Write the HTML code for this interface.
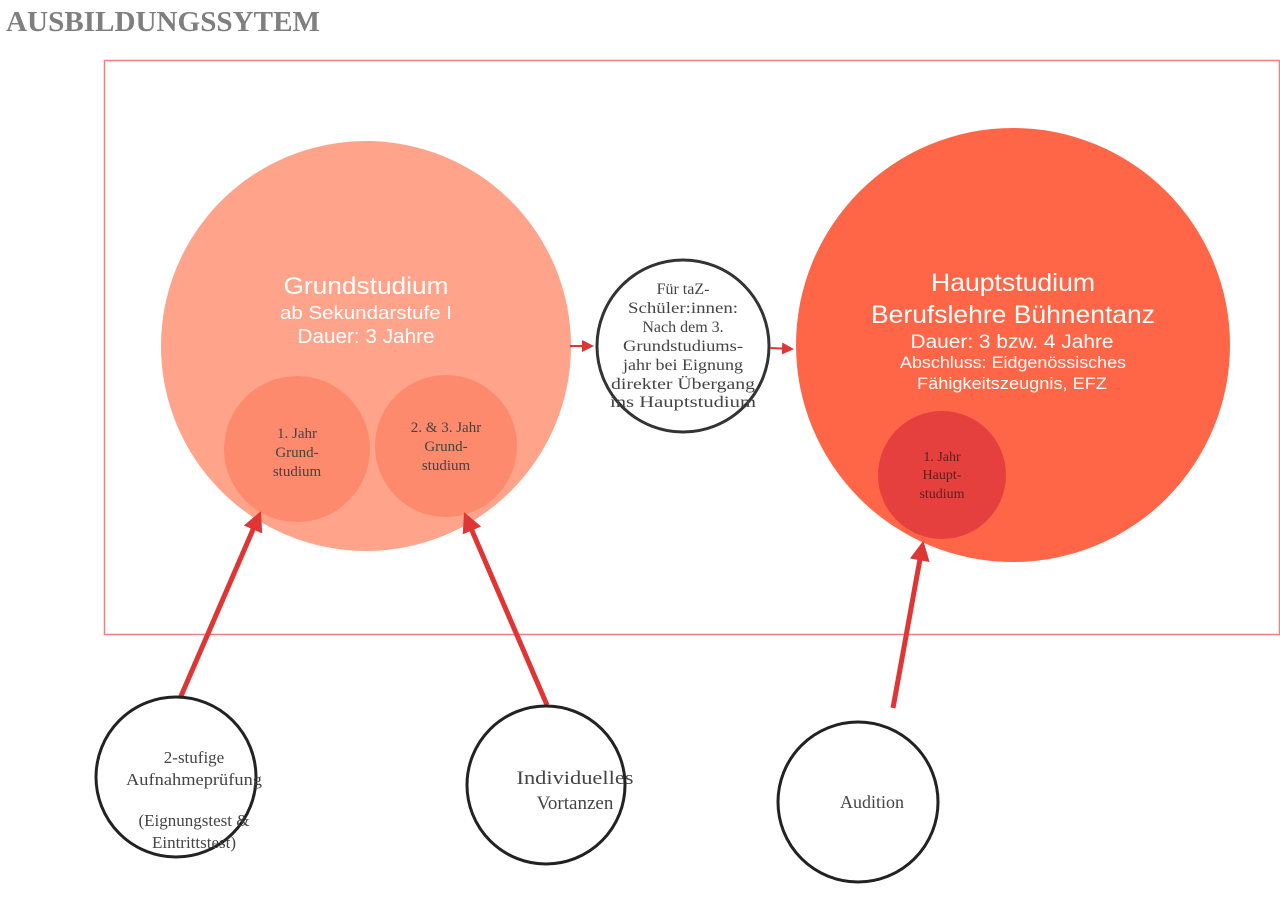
<!DOCTYPE html>
<html><head><meta charset="utf-8"><style>
html,body{margin:0;padding:0;background:#fff;}
svg{display:block}
.s{font-family:"Liberation Serif",serif;fill:#444;}
.w{font-family:"Liberation Sans",sans-serif;fill:#fff;}
</style></head><body>
<svg width="1280" height="918" viewBox="0 0 1280 918" xmlns="http://www.w3.org/2000/svg">
<defs>
<marker id="ah" markerWidth="4" markerHeight="4" refX="2.5" refY="2" orient="auto" markerUnits="strokeWidth"><path d="M0,0 L4,2 L0,4 z" fill="#e03535"/></marker>
<marker id="as" markerWidth="6" markerHeight="6" refX="5" refY="3" orient="auto" markerUnits="strokeWidth"><path d="M0,0 L6,3 L0,6 z" fill="#e03535"/></marker>
</defs>
<text x="6" y="31" font-family="Liberation Serif,serif" font-weight="bold" font-size="29" fill="#7f7f7f" textLength="314" lengthAdjust="spacingAndGlyphs">AUSBILDUNGSSYTEM</text>
<rect x="104.5" y="60.5" width="1175" height="574" fill="none" stroke="#f08080" stroke-width="1.5"/>
<circle cx="366" cy="346" r="205" fill="#ffa38a"/>
<circle cx="297" cy="449" r="73" fill="#fe8a6e"/>
<circle cx="446" cy="446" r="71" fill="#fe8a6e"/>
<text class="w" text-anchor="middle" x="366" y="294" font-size="24" textLength="165" lengthAdjust="spacingAndGlyphs">Grundstudium</text>
<text class="w" text-anchor="middle" x="366" y="319" font-size="18" textLength="172" lengthAdjust="spacingAndGlyphs">ab Sekundarstufe I</text>
<text class="w" text-anchor="middle" x="366" y="343" font-size="20" textLength="137" lengthAdjust="spacingAndGlyphs">Dauer: 3 Jahre</text>
<g class="s" text-anchor="middle" font-size="15">
<text x="297" y="438">1. Jahr</text><text x="297" y="457">Grund-</text><text x="297" y="476">studium</text>
<text x="446" y="432">2. &amp; 3. Jahr</text><text x="446" y="451">Grund-</text><text x="446" y="470">studium</text>
</g>
<circle cx="683" cy="346" r="86" fill="#fff" stroke="#333" stroke-width="3"/>
<g class="s" text-anchor="middle" font-size="16" lengthAdjust="spacingAndGlyphs">
<text x="683" y="294">Für taZ-</text><text x="683" y="313" textLength="110" lengthAdjust="spacingAndGlyphs">Schüler:innen:</text><text x="683" y="332">Nach dem 3.</text><text x="683" y="351" textLength="120" lengthAdjust="spacingAndGlyphs">Grundstudiums-</text><text x="683" y="370" textLength="120" lengthAdjust="spacingAndGlyphs">jahr bei Eignung</text><text x="683" y="389" textLength="144" lengthAdjust="spacingAndGlyphs">direkter Übergang</text><text x="683" y="407" textLength="146" lengthAdjust="spacingAndGlyphs">ins Hauptstudium</text>
</g>
<circle cx="1013" cy="345" r="217" fill="#ff6547"/>
<circle cx="942" cy="475" r="64" fill="#e5403e"/>
<text class="w" text-anchor="middle" x="1013" y="291" font-size="25" textLength="164" lengthAdjust="spacingAndGlyphs">Hauptstudium</text>
<text class="w" text-anchor="middle" x="1013" y="323" font-size="25" textLength="284" lengthAdjust="spacingAndGlyphs">Berufslehre Bühnentanz</text>
<text class="w" text-anchor="middle" x="1012" y="348" font-size="19" textLength="203" lengthAdjust="spacingAndGlyphs">Dauer: 3 bzw. 4 Jahre</text>
<text class="w" text-anchor="middle" x="1013" y="368" font-size="17" textLength="226" lengthAdjust="spacingAndGlyphs">Abschluss: Eidgenössisches</text>
<text class="w" text-anchor="middle" x="1012" y="389" font-size="17" textLength="190" lengthAdjust="spacingAndGlyphs">Fähigkeitszeugnis, EFZ</text>
<g class="s" text-anchor="middle" font-size="14" style="fill:#5a2020">
<text x="942" y="461">1. Jahr</text><text x="942" y="479">Haupt-</text><text x="942" y="498">studium</text>
</g>
<line x1="570" y1="346" x2="592" y2="346" stroke="#e03535" stroke-width="2" marker-end="url(#as)"/>
<line x1="770" y1="348" x2="792" y2="349" stroke="#e03535" stroke-width="2" marker-end="url(#as)"/>
<line x1="178" y1="703" x2="258" y2="518" stroke="#e03535" stroke-width="5" marker-end="url(#ah)"/>
<line x1="547" y1="705" x2="467" y2="519" stroke="#e03535" stroke-width="5" marker-end="url(#ah)"/>
<line x1="893" y1="708" x2="922" y2="548" stroke="#e03535" stroke-width="5" marker-end="url(#ah)"/>
<circle cx="176" cy="777" r="80" fill="#fff" stroke="#222" stroke-width="3"/>
<circle cx="546" cy="785" r="79" fill="#fff" stroke="#222" stroke-width="3"/>
<circle cx="858" cy="802" r="80" fill="#fff" stroke="#222" stroke-width="3"/>
<g class="s" text-anchor="middle" font-size="17">
<text x="194" y="763">2-stufige</text><text x="194" y="785" textLength="136" lengthAdjust="spacingAndGlyphs">Aufnahmeprüfung</text><text x="194" y="826">(Eignungstest &amp;</text><text x="194" y="848">Eintrittstest)</text>
<text x="575" y="784" font-size="19" textLength="117" lengthAdjust="spacingAndGlyphs">Individuelles</text><text x="575" y="809" font-size="19">Vortanzen</text>
<text x="872" y="808" font-size="18">Audition</text>
</g>
</svg>
</body></html>
